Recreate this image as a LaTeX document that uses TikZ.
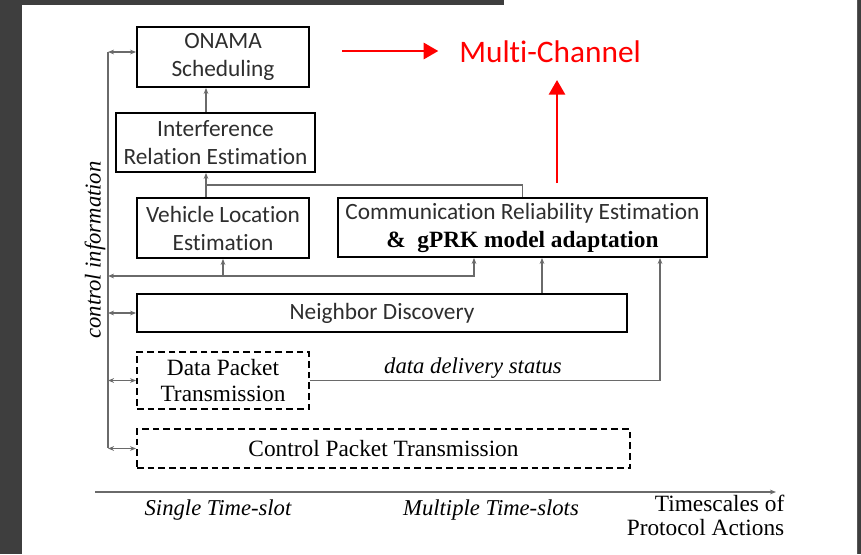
\documentclass[tikz,border=0pt]{standalone}
\usepackage{fontspec}
\setmainfont{Liberation Serif}
\newfontfamily\calibri[Ligatures=NoCommon]{Carlito}
\usetikzlibrary{arrows.meta, calc, positioning}
\definecolor{frameGrey}{HTML}{3E3E3E}
\definecolor{lineGrey}{HTML}{6A6A6A}
\definecolor{txtGrey}{HTML}{2E2E2E}
\definecolor{mcRed}{HTML}{FF0000}
\tikzset{
  >={Stealth[length=4.5pt,width=3.5pt]},
  blk/.style    = {draw=black, line width=1.4pt, inner sep=2pt, align=center,
                   font=\calibri\fontsize{17.5}{21}\selectfont, text=txtGrey},
  dblk/.style   = {blk, dash pattern=on 5pt off 3pt,
                   font=\fontsize{17.5}{20}\selectfont, text=black},
  link/.style   = {lineGrey, line width=1.2pt},
  ilbl/.style   = {font=\itshape\fontsize{17}{20}\selectfont},
  redarr/.style = {mcRed, line width=2.2pt, -{Triangle[length=11pt,width=12pt]}},
}

\begin{document}
\begin{tikzpicture}[x=0.75pt,y=-0.75pt]
  \useasboundingbox (0,0) rectangle (861,554);
  \fill[frameGrey] (0,0) rectangle (861,554);
  \fill[white] (22,5) -- (504,5) -- (504,0) -- (857,0) -- (857,554) -- (22,554) -- cycle;

  % blocks
  \node[blk, minimum width=129pt, minimum height=45pt] (onama) at (223,57) {ONAMA\\Scheduling};
  \node[blk, minimum width=149.25pt, minimum height=44.25pt] (interf) at (215.5,142.5) {Interference\\Relation Estimation};
  \node[blk, minimum width=129pt, minimum height=45pt] (vehloc) at (223,228) {Vehicle Location\\Estimation};
  \node[blk, minimum width=276.75pt, minimum height=44.25pt] (commrel) at (522.5,227.5)
    {Communication Reliability Estimation\\{\rmfamily\bfseries\color{black}\&~ gPRK model adaptation}};
  \node[blk, minimum width=367.5pt, minimum height=28.5pt] (neigh) at (382,313) {Neighbor Discovery};
  \node[dblk, minimum width=129pt, minimum height=42.75pt] (datatx) at (223,380.5) {Data Packet\\Transmission};
  \node[dblk, minimum width=369.75pt, minimum height=29.25pt] (ctrltx) at (383.5,448.5) {Control Packet Transmission};

  \coordinate (bustop) at (108,52);
  \coordinate (busbot) at (108,448);
  \coordinate (jn) at (206,185);
  \coordinate (fb) at (474,276);
  \coordinate (nd) at (542,294);
  \coordinate (ds) at (660,381);

  % control information bus
  \draw[link] (bustop) -- (busbot);
  \draw[link,<->] (bustop) -- (bustop -| onama.west);
  \foreach \b in {neigh, datatx, ctrltx}
    \draw[link,<->] (bustop |- \b.west) -- (\b.west);
  \node[ilbl, rotate=90] (ctrlinfo) at (95,250) {control information};

  % estimation chain
  \draw[link,->] (interf.north -| jn) -- (onama.south -| jn);
  \draw[link,->] (vehloc.north -| jn) -- (interf.south -| jn);
  \draw[link] (jn) -| (commrel.north);
  \draw[link,<->] (bustop |- fb) -| (commrel.south -| fb);
  \draw[link,->] (fb -| vehloc.south) -- (vehloc.south);
  \draw[link,->] (neigh.north -| nd) -- (commrel.south -| nd);
  \draw[link,->] (datatx.east) -| (commrel.south -| ds);
  \node[ilbl] (dds) at (473,368) {data delivery status};

  % timescale axis
  \coordinate (ax0) at (95,492);
  \coordinate (ax1) at (776,492);
  \draw[link, line width=1.5pt, ->] (ax0) -- (ax1);
  \node[ilbl] (single) at (218,510) {Single Time-slot};
  \node[ilbl] (multi) at (491,510) {Multiple Time-slots};
  \node[align=right, anchor=east, font=\fontsize{17.5}{18}\selectfont] (tscale) at (789,515) {Timescales of\\Protocol Actions};

  % multi-channel note
  \node[font=\calibri\fontsize{23.5}{28}\selectfont, text=mcRed, anchor=west, inner sep=0pt] (mchan) at (459,52) {Multi-Channel};
  \coordinate (r0) at (342,51);
  \coordinate (rv0) at (557,183);
  \coordinate (rtip) at (557,80);
  \draw[redarr, shorten >=15.5pt] (r0) -- (r0 -| mchan.west);
  \draw[redarr] (rv0) -- (rtip);
\end{tikzpicture}
\end{document}
